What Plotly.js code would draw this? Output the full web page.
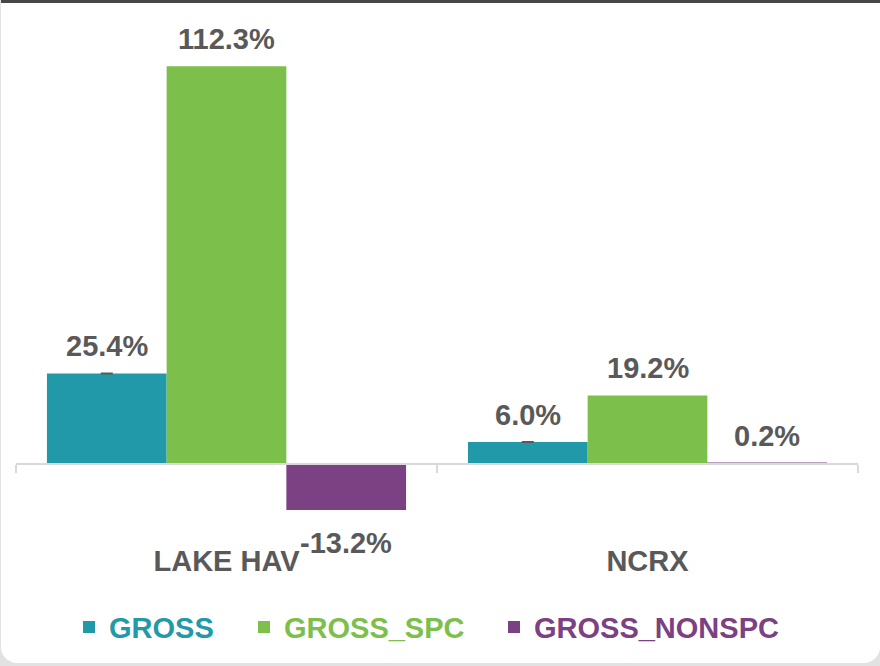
<!DOCTYPE html>
<html>
<head>
<meta charset="utf-8">
<script src="https://cdn.plot.ly/plotly-3.0.1.min.js"></script>
<style>
  html, body { margin:0; padding:0; width:880px; height:666px; background:#e2e2e2; overflow:hidden; }
  #card { position:absolute; left:1px; top:0; width:879px; height:663px; background:#ffffff;
          border-top:3px solid #474747; box-sizing:border-box;
          border-bottom-left-radius:16px; border-bottom-right-radius:16px; }
  #chart { position:absolute; left:0; top:0; width:880px; height:666px; }
</style>
</head>
<body>
<div id="card"></div>
<div id="chart"></div>
<script>
const categories = ['LAKE HAV', 'NCRX'];
const seriesNames = ['GROSS', 'GROSS_SPC', 'GROSS_NONSPC'];
const gross = [25.4, 6.0];
const grossSpc = [112.3, 19.2];
const grossNonspc = [-13.2, 0.2];
const seriesValues = [gross, grossSpc, grossNonspc];
const colors = ['#2199A9', '#7CBF4B', '#7B4183'];

const labelColor = '#595959';
const fontFamily = '"Liberation Sans", Arial, sans-serif';
const fontSize = 29;
const bargap = 0.147;
const yRange = [-20, 120];
const margin = { l: 16, r: 22, t: 39, b: 132 };
const plotW = 880 - margin.l - margin.r;
// legend left edges (pixels) for each series entry
const legendLeftPx = [69, 244, 494];
const legendIds = ['legend', 'legend2', 'legend3'];

const traces = seriesValues.map((vals, k) => {
  const t = {
    type: 'bar',
    name: '<span style="color:' + colors[k] + '">' + seriesNames[k] + '</span>',
    legend: legendIds[k],
    x: categories,
    y: vals,
    marker: { color: colors[k], line: { width: 0 } },
    hoverinfo: 'none'
  };
  if (k === 0) {
    t.error_y = { type: 'data', array: vals.map(() => 0), visible: true,
                  color: labelColor, thickness: 2, width: 6 };
  }
  return t;
});

const nSeries = seriesValues.length;
const slot = (1 - bargap) / nSeries;
const annotations = [];
seriesValues.forEach((vals, k) => {
  vals.forEach((v, i) => {
    annotations.push({
      x: i + (k - (nSeries - 1) / 2) * slot,
      y: v,
      xref: 'x', yref: 'y',
      text: v.toFixed(1) + '%',
      showarrow: false,
      yanchor: v >= 0 ? 'bottom' : 'top',
      yshift: v >= 0 ? 9 : -15,
      font: { family: fontFamily, size: fontSize, color: labelColor, weight: 'bold' }
    });
  });
});

const layout = {
  width: 880, height: 666,
  paper_bgcolor: 'rgba(0,0,0,0)',
  plot_bgcolor: 'rgba(0,0,0,0)',
  margin: margin,
  barmode: 'group',
  bargap: bargap,
  bargroupgap: 0,
  showlegend: true,
  xaxis: {
    type: 'category',
    anchor: 'free',
    position: (0 - yRange[0]) / (yRange[1] - yRange[0]),
    showline: true, linecolor: '#d9d9d9', linewidth: 1.5,
    ticks: 'outside', tickson: 'boundaries', ticklen: 8, tickcolor: '#d9d9d9', tickwidth: 1.5,
    showgrid: false, zeroline: false,
    ticklabelstandoff: 71,
    tickfont: { family: fontFamily, size: fontSize, color: labelColor, weight: 'bold' },
    automargin: false,
    fixedrange: true
  },
  yaxis: {
    range: yRange,
    visible: false,
    showgrid: false, zeroline: false,
    fixedrange: true
  },
  annotations: annotations
};

legendIds.forEach((id, k) => {
  layout[id] = {
    orientation: 'h',
    x: (legendLeftPx[k] - margin.l) / plotW, xanchor: 'left',
    y: -0.188, yanchor: 'middle',
    font: { family: fontFamily, size: fontSize, color: labelColor, weight: 'bold' },
    bgcolor: 'rgba(0,0,0,0)',
    borderwidth: 0,
    itemclick: false, itemdoubleclick: false
  };
});

Plotly.newPlot('chart', traces, layout, { displayModeBar: false, staticPlot: true });
</script>
</body>
</html>
